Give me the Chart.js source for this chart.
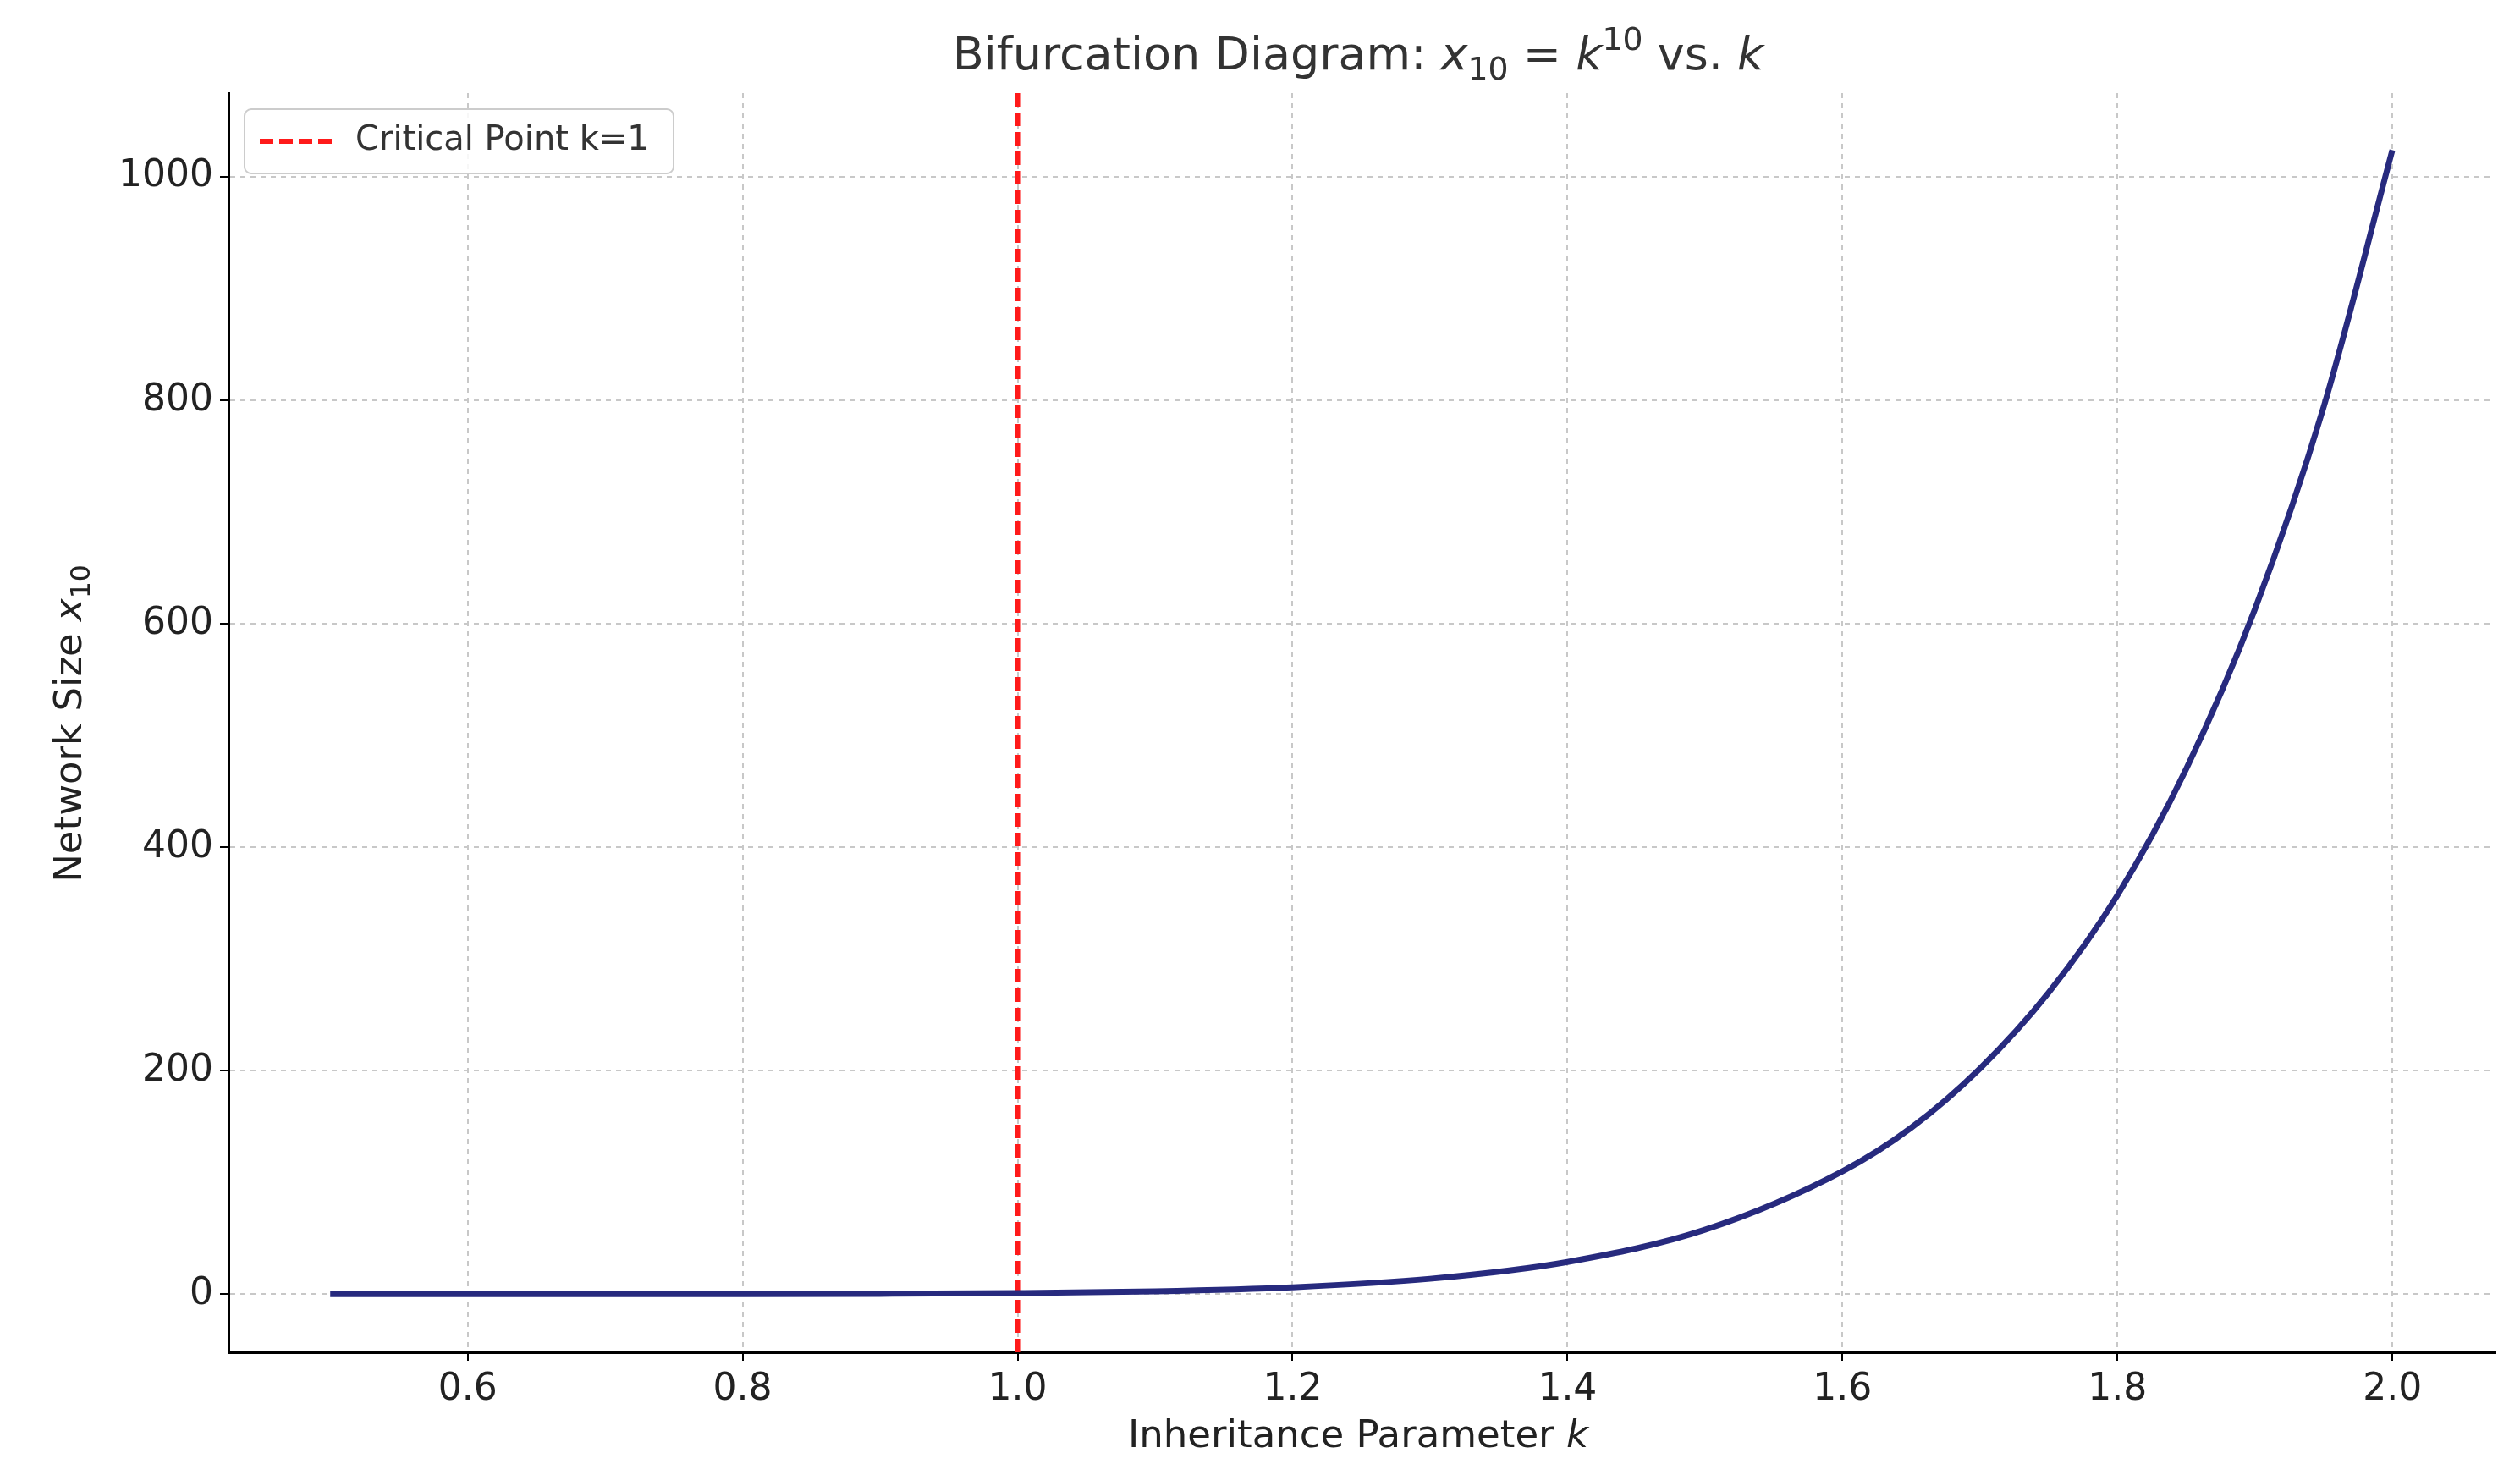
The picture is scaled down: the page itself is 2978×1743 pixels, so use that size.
<!DOCTYPE html>
<html><head><meta charset="utf-8">
<script src="https://cdn.jsdelivr.net/npm/chart.js@4"></script>
<style>html,body{margin:0;background:#fff}#c{display:block}</style>
</head><body>
<div style="width:2978px;height:1743px"><canvas id="c"></canvas></div>
<script>
// values
const kValues = [0.5, 0.6, 0.7, 0.8, 0.9, 1.0, 1.1, 1.2, 1.3, 1.4, 1.5, 1.6, 1.65, 1.7, 1.75, 1.8, 1.85, 1.9, 1.95, 2.0];
const networkSize = [0.001, 0.006, 0.03, 0.1, 0.35, 1, 2.6, 6.2, 13.8, 28.9, 57.7, 110, 149, 202, 270, 357, 470, 613, 794, 1024];
const criticalK = 1;
const xTicks = [0.6, 0.8, 1.0, 1.2, 1.4, 1.6, 1.8, 2.0];
const yTicks = [0, 200, 400, 600, 800, 1000];

const FONT = '"DejaVu Sans", sans-serif';

function richText(ctx, parts, x, y, size, align) {
  const seg = parts.map(([t, s]) => {
    const small = s === 'sub' || s === 'sup';
    const fs = small ? size * 0.7 : size;
    const font = (s === 'i' ? 'italic ' : '') + fs + 'px ' + FONT;
    ctx.font = font;
    return { t, s, font, w: ctx.measureText(t).width };
  });
  const total = seg.reduce((a, b) => a + b.w, 0);
  let cx = align === 'center' ? x - total / 2 : x;
  ctx.textBaseline = 'middle';
  ctx.textAlign = 'left';
  for (const g of seg) {
    ctx.font = g.font;
    const dy = g.s === 'sub' ? size * 0.3 : g.s === 'sup' ? -size * 0.35 : 0;
    ctx.fillText(g.t, cx, y + dy);
    cx += g.w;
  }
}

const decor = {
  id: 'decor',
  afterDraw(chart) {
    const ctx = chart.ctx;
    ctx.save();
    ctx.fillStyle = '#333';
    richText(ctx, [['Bifurcation Diagram: ', ''], ['x', 'i'], ['10', 'sub'], [' = ', ''], ['k', 'i'], ['10', 'sup'], [' vs. ', ''], ['k', 'i']], 1605, 68, 54, 'center');
    ctx.fillStyle = '#222';
    richText(ctx, [['Inheritance Parameter ', ''], ['k', 'i']], 1605, 1698, 45, 'center');
    ctx.translate(84, 855);
    ctx.rotate(-Math.PI / 2);
    richText(ctx, [['Network Size ', ''], ['x', 'i'], ['10', 'sub']], 0, 0, 45, 'center');
    ctx.restore();

    // legend box
    ctx.save();
    ctx.fillStyle = 'rgba(255,255,255,0.85)';
    ctx.strokeStyle = '#ccc';
    ctx.lineWidth = 2;
    ctx.beginPath();
    ctx.roundRect(289, 129, 507, 76, 8);
    ctx.fill(); ctx.stroke();
    ctx.strokeStyle = '#ff1a1a';
    ctx.lineWidth = 6;
    ctx.setLineDash([16, 7]);
    ctx.beginPath(); ctx.moveTo(307, 167); ctx.lineTo(392, 167); ctx.stroke();
    ctx.setLineDash([]);
    ctx.fillStyle = '#333';
    ctx.font = '40px ' + FONT;
    ctx.textBaseline = 'middle';
    ctx.fillText('Critical Point k=1', 420, 167);
    ctx.restore();
  }
};

const curve = kValues.map((k, i) => ({ x: k, y: networkSize[i] }));

new Chart(document.getElementById('c'), {
  type: 'scatter',
  data: {
    datasets: [
      { data: curve, showLine: true, borderColor: '#272a7e', borderWidth: 7, pointRadius: 0, cubicInterpolationMode: 'monotone' },
      { data: [{ x: criticalK, y: -52 }, { x: criticalK, y: 1075 }], showLine: true, borderColor: '#ff1a1a', borderWidth: 6, borderDash: [16, 7], pointRadius: 0 }
    ]
  },
  options: {
    responsive: true,
    maintainAspectRatio: false,
    animation: false,
    layout: { padding: { top: 110, right: 29, left: 0, bottom: 0 } },
    plugins: { legend: { display: false }, tooltip: { enabled: false } },
    scales: {
      x: {
        type: 'linear', min: 0.426, max: 2.075,
        afterBuildTicks: s => { s.ticks = xTicks.map(v => ({ value: v })); },
        afterFit: s => { s.height = 145; },
        ticks: { color: '#222', font: { size: 44, family: FONT }, padding: 8, callback: v => v.toFixed(1) },
        grid: { color: '#c8c8c8', lineWidth: 2, tickColor: '#000', tickLength: 10 },
        border: { display: true, color: '#000', width: 3, dash: [6, 6] }
      },
      y: {
        min: -52, max: 1075,
        afterBuildTicks: s => { s.ticks = yTicks.map(v => ({ value: v })); },
        afterFit: s => { s.width = 270; },
        ticks: { color: '#222', font: { size: 44, family: FONT }, padding: 8, callback: v => String(v) },
        grid: { color: '#c8c8c8', lineWidth: 2, tickColor: '#000', tickLength: 10 },
        border: { display: true, color: '#000', width: 3, dash: [6, 6] }
      }
    }
  },
  plugins: [decor]
});
</script>
</body></html>
